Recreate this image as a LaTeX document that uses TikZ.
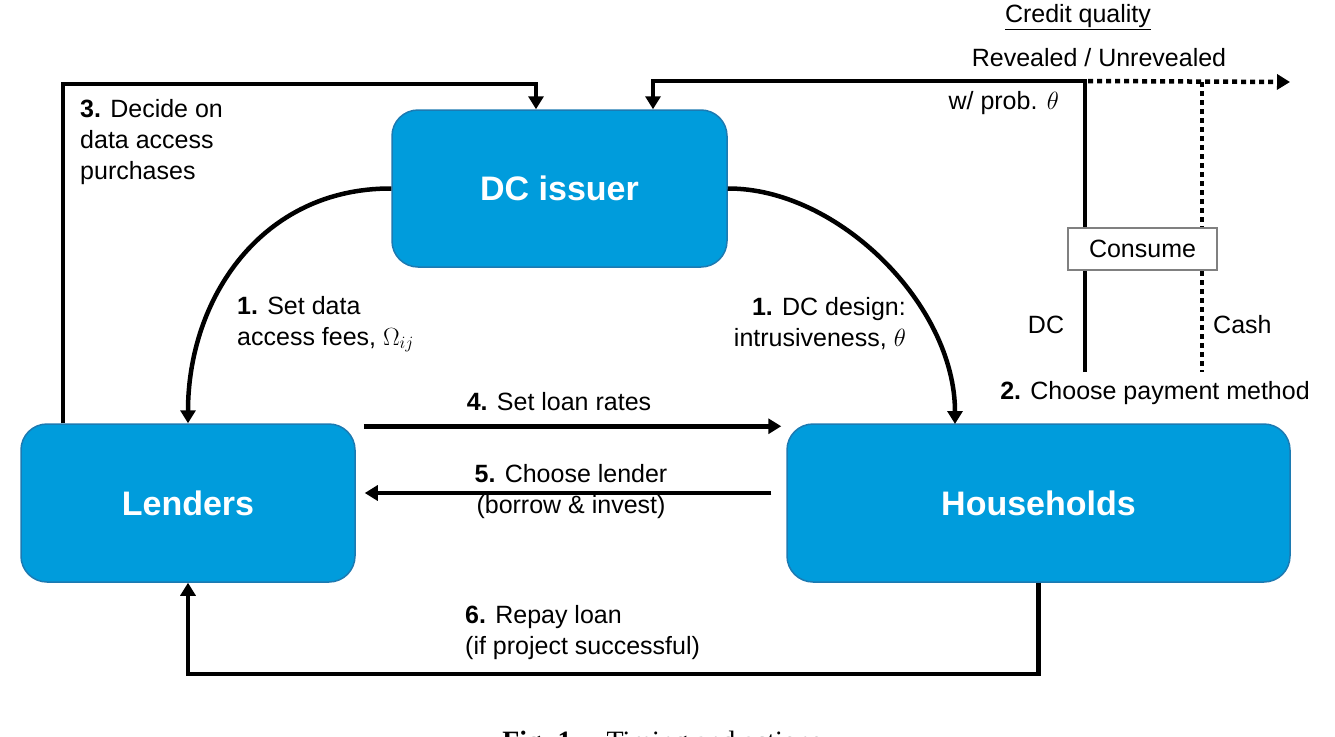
\documentclass[tikz,border=0pt]{standalone}
\usepackage{fontspec}
\setmainfont{Liberation Sans}
\newfontfamily\capfont{Liberation Serif}
\usetikzlibrary{arrows.meta}
\definecolor{boxblue}{RGB}{0,156,220}
\definecolor{boxedge}{RGB}{28,122,178}
\begin{document}
\begin{tikzpicture}[x=1pt, y=-1pt, >={Triangle[length=13pt,width=15pt]},
  box/.style={draw=boxedge, line width=1.5pt, fill=boxblue, rounded corners=26pt,
    text=white, font=\fontsize{34}{40}\selectfont\bfseries},
  conn/.style={line width=4.5pt},
  dots/.style={line width=4.5pt, dash pattern=on 5pt off 4pt},
  lbl/.style={font=\fontsize{25}{31}\selectfont, inner sep=0pt}]
  \useasboundingbox (0,0) rectangle (1335,736);

  \node[box, minimum width=335pt, minimum height=157pt] (dc) at (559.5,188.5) {DC issuer};
  \node[box, minimum width=334pt, minimum height=158pt] (lenders) at (188,503) {Lenders};
  \node[box, minimum width=503pt, minimum height=158pt] (hh) at (1038.5,503) {Households};

  \coordinate (tl) at (63,84);
  \coordinate (inA) at (536,84);
  \coordinate (dctop) at (1085,81);
  \coordinate (dcbot) at (1085,372);
  \coordinate (inB) at (653,81);
  \coordinate (cashtop) at (1202,82);
  \coordinate (cashbot) at (1202,372);
  \coordinate (revend) at (1290,82);
  \coordinate (hhin) at (955,424);
  \coordinate (bot) at (0,674);

  % step 3 and the credit quality loop
  \draw[conn, ->] (lenders.north -| tl) -- (tl) -- (inA) -- (dc.north -| inA);
  \draw[conn, ->] (dcbot) -- (dctop) -- (inB) -- (dc.north -| inB);
  \draw[dots, ->] ([xshift=3pt]dctop) -- (revend);
  \draw[dots] (cashtop) -- (cashbot);

  % step 1
  \draw[conn, ->] (dc.west) .. controls (262,188) and (188,298) .. (lenders.north);
  \draw[conn, ->] (dc.east) .. controls (838,188) and (955,305) .. (hhin);

  % steps 4 to 6
  \draw[conn, ->] ([shift={(8,3)}]lenders.north east) -- ([shift={(-5,3)}]hh.north west);
  \draw[conn, ->] ([shift={(-15,-10)}]hh.west) -- ([shift={(9,-10)}]lenders.east);
  \draw[conn, ->] (hh.south) -- (hh.south |- bot) -- (lenders.south |- bot) -- (lenders.south);

  \node[draw=gray, line width=1.2pt, fill=white, minimum width=149pt, minimum height=42pt,
    font=\fontsize{25}{31}\selectfont] (consume) at (1142.5,249) {Consume};

  \node[lbl, anchor=west, align=left] (l3) at (80,142) {\textbf{3.} Decide on\\data access\\purchases};
  \node[lbl, anchor=west, align=left] (l1a) at (237,324) {\textbf{1.} Set data\\access fees, $\Omega_{ij}$};
  \node[lbl, anchor=east, align=right] (l1b) at (906,324) {\textbf{1.} DC design:\\intrusiveness, $\theta$};
  \node[lbl] (l4) at (559,402) {\textbf{4.} Set loan rates};
  \node[lbl, align=center] (l5) at (571,492) {\textbf{5.} Choose lender\\(borrow \& invest)};
  \node[lbl, anchor=west, align=left] (l6) at (465,633) {\textbf{6.} Repay loan\\(if project successful)};
  \node[lbl] (cq) at (1078,17) {\underline{Credit quality}};
  \node[lbl] (rev) at (1099,58) {Revealed / Unrevealed};
  \node[lbl, anchor=east] (wp) at (1059,103) {w/ prob. $\theta$};
  \node[lbl] (dclab) at (1046,325) {DC};
  \node[lbl, anchor=west] (cashlab) at (1213,325) {Cash};
  \node[lbl] (l2) at (1155,393) {\textbf{2.} Choose payment method};

  \node[font=\capfont\fontsize{28}{32}\selectfont, anchor=base] (cap) at (662,750)
    {\textbf{Fig. 1.}\quad Timing and actions};
\end{tikzpicture}
\end{document}
